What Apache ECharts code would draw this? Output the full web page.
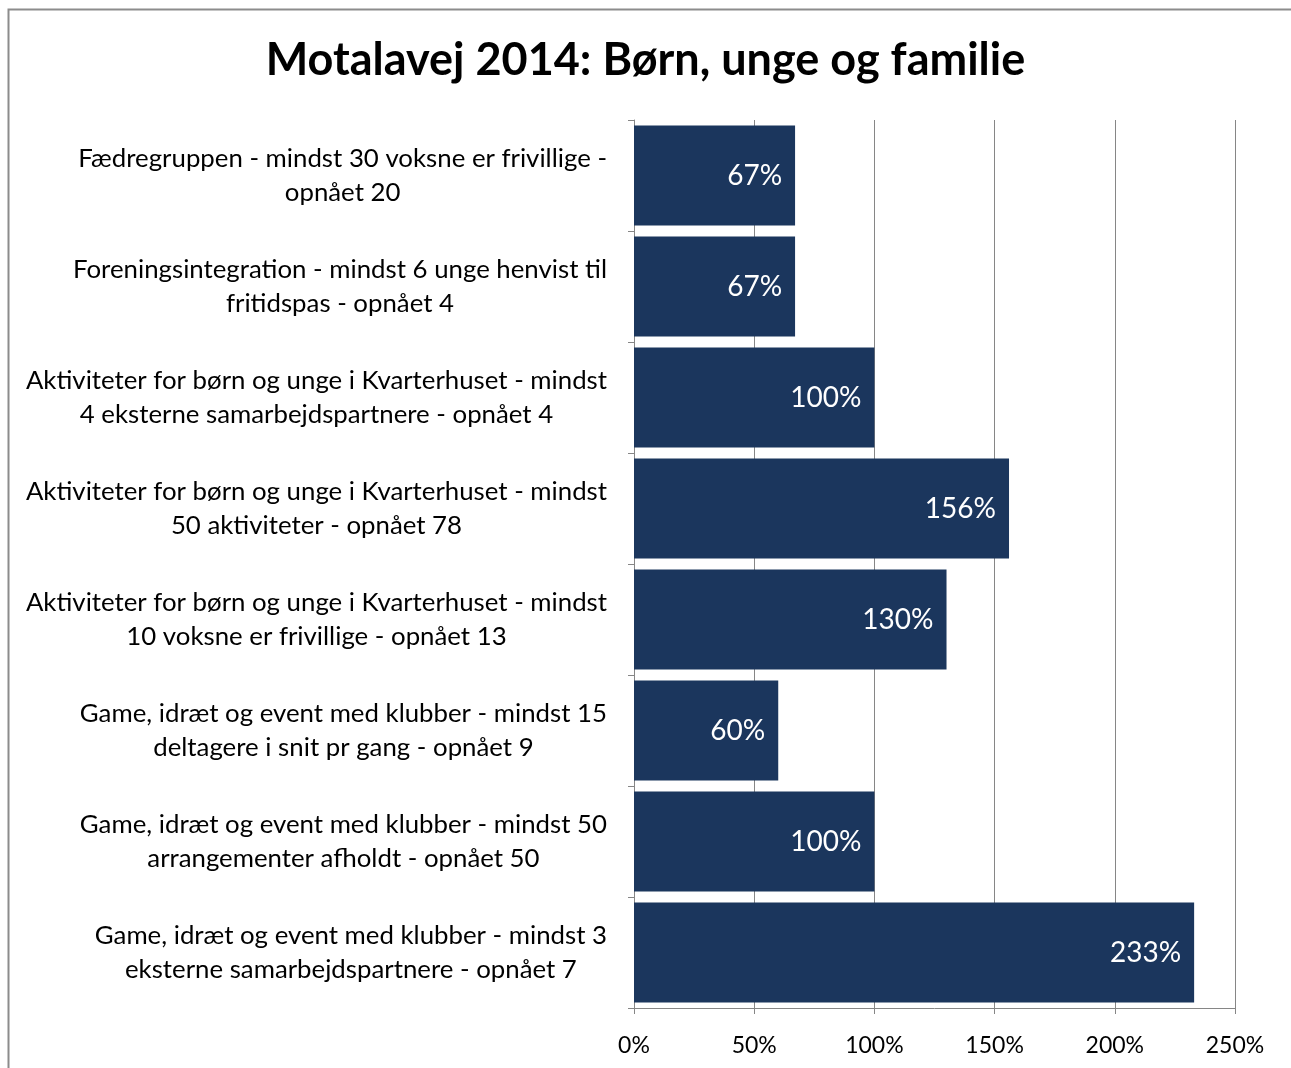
<!DOCTYPE html>
<html>
<head>
<meta charset="utf-8">
<script src="https://cdn.jsdelivr.net/npm/echarts@6/dist/echarts.min.js"></script>
<style>
html,body{margin:0;padding:0;background:#fff;}
#chart{width:1291px;height:1068px;}
</style>
</head>
<body>
<div id="chart"></div>
<script>
const chartTitle = 'Motalavej 2014: Børn, unge og familie';
const categories = [
  'Fædregruppen - mindst 30 voksne er frivillige -\nopnået 20',
  'Foreningsintegration - mindst 6 unge henvist til\nfritidspas - opnået 4',
  'Aktiviteter for børn og unge i Kvarterhuset - mindst\n4 eksterne samarbejdspartnere - opnået 4',
  'Aktiviteter for børn og unge i Kvarterhuset - mindst\n50 aktiviteter - opnået 78',
  'Aktiviteter for børn og unge i Kvarterhuset - mindst\n10 voksne er frivillige - opnået 13',
  'Game, idræt og event med klubber - mindst 15\ndeltagere i snit pr gang - opnået 9',
  'Game, idræt og event med klubber - mindst 50\narrangementer afholdt - opnået 50',
  'Game, idræt og event med klubber - mindst 3\neksterne samarbejdspartnere - opnået 7'
];
const percentValues = [67, 67, 100, 156, 130, 60, 100, 233];
const xTicks = [0, 50, 100, 150, 200, 250];

const FONT = 'Lato';
const chart = echarts.init(document.getElementById('chart'));
chart.setOption({
  backgroundColor: '#ffffff',
  animation: false,
  graphic: [{
    type: 'rect',
    shape: { x: 8.5, y: 9.5, width: 1400, height: 1200 },
    style: { fill: 'none', stroke: '#8c8c8c', lineWidth: 2 },
    silent: true
  }],
  title: {
    text: chartTitle,
    left: 'center',
    top: 33,
    textStyle: { fontFamily: FONT, fontWeight: 'bold', fontSize: 45, color: '#000' }
  },
  grid: { left: 634, right: 56, top: 120, bottom: 60, containLabel: false },
  xAxis: {
    type: 'value',
    min: xTicks[0],
    max: xTicks[xTicks.length - 1],
    interval: 50,
    axisLine: { show: true, lineStyle: { color: '#868686', width: 1 } },
    axisTick: { show: true, length: 6, lineStyle: { color: '#868686' } },
    splitLine: { show: true, lineStyle: { color: '#868686', width: 1 } },
    axisLabel: {
      formatter: v => v + '%',
      fontFamily: FONT, fontSize: 23, color: '#000', margin: 26
    }
  },
  yAxis: {
    type: 'category',
    inverse: true,
    data: categories,
    axisLine: { show: true, lineStyle: { color: '#868686', width: 1 } },
    axisTick: { show: true, length: 6, lineStyle: { color: '#868686' } },
    splitLine: { show: false },
    axisLabel: {
      align: 'right',
      margin: 27,
      formatter: v => v.split('\n').map(l => '{c|' + l + '}').join('\n'),
      rich: {
        c: { align: 'center', fontFamily: FONT, fontSize: 25.8, color: '#000', lineHeight: 34 }
      }
    }
  },
  series: [{
    type: 'bar',
    data: percentValues,
    barCategoryGap: '10%',
    itemStyle: { color: '#1b365d' },
    label: {
      show: true,
      position: 'insideRight',
      distance: 13,
      formatter: p => p.value + '%',
      fontFamily: FONT, fontSize: 28, color: '#ffffff'
    }
  }]
});
</script>
</body>
</html>
